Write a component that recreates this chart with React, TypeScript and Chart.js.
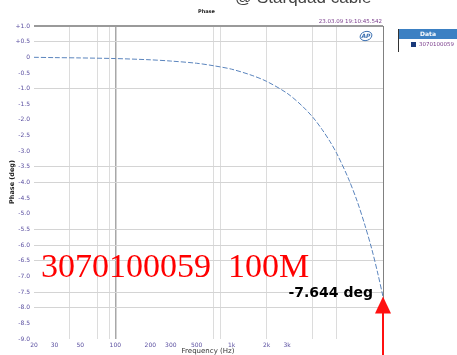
import React, { useEffect, useRef } from 'react';
import { Chart, registerables } from 'chart.js';

Chart.register(...registerables);

// Measured phase response of the cable (Hz / degrees)
const frequencies = [20, 30, 50, 100, 200, 300, 500, 700, 1000, 1500, 2000, 3000, 4000, 5000, 6000, 7000, 8000, 10000, 12000, 14000, 16000, 18000, 20000];
const phaseDeg = [0, -0.01, -0.02, -0.04, -0.08, -0.12, -0.19, -0.27, -0.38, -0.58, -0.77, -1.15, -1.54, -1.92, -2.31, -2.69, -3.07, -3.84, -4.6, -5.37, -6.12, -6.89, -7.644];

// Axis ticks
const xTickFreqs = [20, 30, 50, 100, 200, 300, 500, 1000, 2000, 3000];
const xTickLabels = ['20', '30', '50', '100', '200', '300', '500', '1k', '2k', '3k'];
const xGridFreqs = [40, 70, 90, 100, 700, 800, 2000, 5000, 8000];
const yTickValues = [1, 0.5, 0, -0.5, -1, -1.5, -2, -2.5, -3, -3.5, -4, -4.5, -5, -5.5, -6, -6.5, -7, -7.5, -8, -8.5, -9];
const yGridValues = [0.5, -1, -3.5, -4, -5.5, -6, -6.5, -7.5, -8];

const seriesName = '3070100059';
const bigCaption = '3070100059  100M';
const endValue = phaseDeg[phaseDeg.length - 1];

const fmtY = (v: number) => (v > 0 ? '+' + v.toFixed(1) : v === 0 ? '0' : v.toFixed(1));

const overlay = {
  id: 'overlay',
  afterDraw(chart: any) {
    const { ctx, chartArea: a, scales } = chart;
    const xs = scales.x;
    const ys = scales.y;
    ctx.save();

    // plot frame: top and right edges
    ctx.strokeStyle = '#9a9a9a';
    ctx.lineWidth = 2;
    ctx.beginPath();
    ctx.moveTo(a.left, a.top);
    ctx.lineTo(a.right, a.top);
    ctx.stroke();
    ctx.strokeStyle = '#808080';
    ctx.lineWidth = 1;
    ctx.beginPath();
    ctx.moveTo(a.right + 0.5, a.top);
    ctx.lineTo(a.right + 0.5, a.bottom);
    ctx.stroke();

    // headline (partly above the canvas)
    ctx.fillStyle = '#444';
    ctx.font = '17px "Liberation Sans"';
    ctx.textAlign = 'left';
    ctx.textBaseline = 'alphabetic';
    ctx.fillText('@ Starquad cable', 235, 3);

    ctx.fillStyle = '#222';
    ctx.font = 'bold 5px "DejaVu Sans"';
    ctx.fillText('Phase', 198, 13);

    ctx.fillStyle = '#7a3c8c';
    ctx.font = '5.5px "DejaVu Sans"';
    ctx.textAlign = 'right';
    ctx.fillText('23.03.09 19:10:45.542', 382, 23);

    // AP logo
    ctx.strokeStyle = '#3a6fb0';
    ctx.lineWidth = 1;
    ctx.beginPath();
    ctx.ellipse(366, 36, 6, 4.5, -0.3, 0, Math.PI * 2);
    ctx.stroke();
    ctx.fillStyle = '#3a6fb0';
    ctx.font = 'italic bold 6px "DejaVu Sans"';
    ctx.textAlign = 'center';
    ctx.textBaseline = 'middle';
    ctx.fillText('AP', 366, 36.5);

    // axis titles
    ctx.fillStyle = '#333';
    ctx.font = '7px "DejaVu Sans"';
    ctx.textAlign = 'center';
    ctx.fillText('Frequency (Hz)', 208, 351);
    ctx.save();
    ctx.translate(12, 182);
    ctx.rotate(-Math.PI / 2);
    ctx.font = 'bold 6.5px "DejaVu Sans"';
    ctx.fillStyle = '#222';
    ctx.fillText('Phase (deg)', 0, 0);
    ctx.restore();

    // legend box
    ctx.fillStyle = '#3b80c3';
    ctx.fillRect(398, 29, 59, 10);
    ctx.fillStyle = '#fff';
    ctx.font = 'bold 6px "DejaVu Sans"';
    ctx.fillText('Data', 428, 34);
    ctx.strokeStyle = '#333';
    ctx.beginPath();
    ctx.moveTo(398.5, 29);
    ctx.lineTo(398.5, 52);
    ctx.stroke();
    ctx.fillStyle = '#1a3a7a';
    ctx.fillRect(411, 42, 5, 5);
    ctx.fillStyle = '#7a3c8c';
    ctx.font = '5.5px "DejaVu Sans"';
    ctx.textAlign = 'left';
    ctx.fillText(seriesName, 419, 45);

    // caption
    ctx.fillStyle = '#ff0000';
    ctx.font = '34px "Liberation Serif"';
    ctx.textAlign = 'left';
    ctx.textBaseline = 'alphabetic';
    ctx.fillText(bigCaption, 41, 277);

    // end-point marker
    const px = xs.getPixelForValue(frequencies[frequencies.length - 1]);
    const py = ys.getPixelForValue(endValue);
    ctx.fillStyle = '#000';
    ctx.font = 'bold 14px "DejaVu Sans"';
    ctx.textAlign = 'right';
    ctx.fillText(endValue.toFixed(3) + ' deg', 373, 297);

    ctx.fillStyle = '#ff1010';
    ctx.strokeStyle = '#ff1010';
    ctx.lineWidth = 2;
    ctx.beginPath();
    ctx.moveTo(px, py + 10);
    ctx.lineTo(px, 355);
    ctx.stroke();
    ctx.beginPath();
    ctx.moveTo(px, py);
    ctx.lineTo(px - 8, py + 17);
    ctx.lineTo(px + 8, py + 17);
    ctx.closePath();
    ctx.fill();

    ctx.restore();
  },
};

export default function App() {
  const ref = useRef<HTMLCanvasElement | null>(null);

  useEffect(() => {
    if (!ref.current) return;
    const chart = new Chart(ref.current, {
      type: 'line',
      data: {
        datasets: [
          {
            label: seriesName,
            data: frequencies.map((f, i) => ({ x: f, y: phaseDeg[i] })),
            borderColor: '#5a84bd',
            borderWidth: 1,
            borderDash: [5, 2],
            pointRadius: 0,
            tension: 0.3,
            fill: false,
          },
        ],
      },
      options: {
        responsive: false,
        animation: false,
        layout: { padding: { left: 0, right: 74, top: 26, bottom: 0 } },
        plugins: { legend: { display: false }, tooltip: { enabled: false } },
        scales: {
          x: {
            type: 'logarithmic',
            min: 20,
            max: 20000,
            border: { display: false },
            afterBuildTicks: (s: any) => {
              const vals = Array.from(new Set([...xTickFreqs, ...xGridFreqs])).sort((p, q) => p - q);
              s.ticks = vals.map((v) => ({ value: v }));
            },
            afterFit: (s: any) => {
              s.height = 16;
            },
            grid: {
              drawTicks: false,
              color: (c: any) => {
                const v = c.tick ? c.tick.value : null;
                if (v === 100) return '#a8a8a8';
                return xGridFreqs.includes(v) ? '#dcdcdc' : 'rgba(0,0,0,0)';
              },
              lineWidth: (c: any) => (c.tick && c.tick.value === 100 ? 1.5 : 1),
            },
            ticks: {
              autoSkip: false,
              maxRotation: 0,
              padding: 3,
              color: '#5a4fa0',
              font: { family: 'DejaVu Sans', size: 6 },
              callback: (v: any) => {
                const i = xTickFreqs.indexOf(Number(v));
                return i >= 0 ? xTickLabels[i] : '';
              },
            },
          },
          y: {
            type: 'linear',
            min: -9,
            max: 1,
            border: { display: false },
            afterBuildTicks: (s: any) => {
              s.ticks = yTickValues.map((v) => ({ value: v }));
            },
            afterFit: (s: any) => {
              s.width = 34;
            },
            grid: {
              drawTicks: false,
              color: (c: any) => (c.tick && yGridValues.includes(c.tick.value) ? '#d4d4d4' : 'rgba(0,0,0,0)'),
            },
            ticks: {
              autoSkip: false,
              padding: 4,
              color: '#5a4fa0',
              font: { family: 'DejaVu Sans', size: 6 },
              callback: (v: any) => fmtY(Number(v)),
            },
          },
        },
      },
      plugins: [overlay],
    });
    return () => chart.destroy();
  }, []);

  return (
    <div style={{ position: 'absolute', left: 0, top: 0, width: 457, height: 355, background: '#fff' }}>
      <canvas ref={ref} width={457} height={355} style={{ display: 'block' }} />
    </div>
  );
}
